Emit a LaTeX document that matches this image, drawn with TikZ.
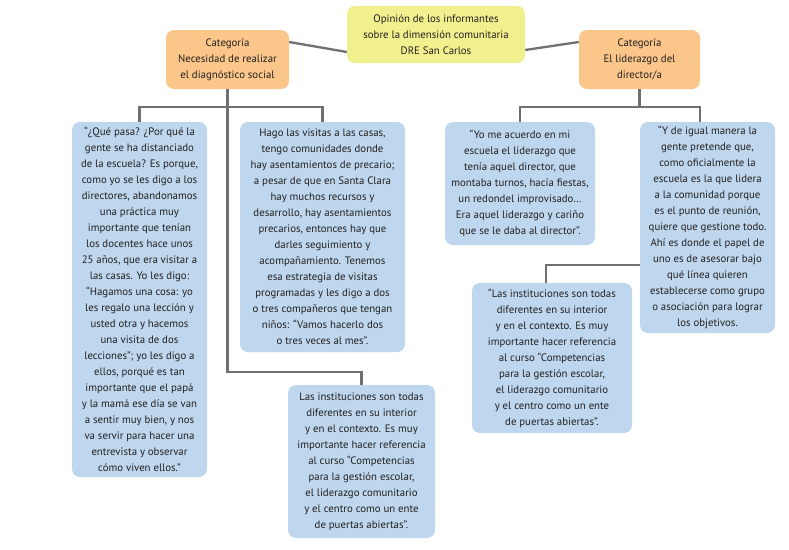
\documentclass[tikz,border=0pt]{standalone}
\usepackage{fontspec}
\setmainfont{PT Sans}
\usetikzlibrary{calc}

\definecolor{rootyellow}{RGB}{241,240,142}
\definecolor{catorange}{RGB}{251,198,138}
\definecolor{quoteblue}{RGB}{190,215,238}
\definecolor{linegray}{RGB}{112,112,116}
\definecolor{textdark}{RGB}{35,31,32}

\begin{document}
\begin{tikzpicture}[
        x=1pt, y=-1pt,
        box/.style={rectangle, rounded corners=8pt, inner sep=0pt, align=center, text=textdark,
            font=\fontsize{10.8}{16}\selectfont},
        root/.style={box, fill=rootyellow},
        category/.style={box, fill=catorange},
        quote/.style={box, fill=quoteblue},
        conn/.style={draw=linegray, line width=2.3pt}
    ]
    \useasboundingbox (0,0) rectangle (789,549);

    % Top level
    \node[root, minimum width=178pt, minimum height=57pt] (opinion) at (436,34.5) {
        Opinión de los informantes\\
        sobre la dimensión comunitaria\\
        DRE San Carlos};

    \node[category, minimum width=123pt, minimum height=59pt] (cat-diag) at (227.5,59.5) {
        Categoría\\
        Necesidad de realizar\\
        el diagnóstico social};

    \node[category, minimum width=121pt, minimum height=59pt] (cat-lider) at (639.5,59.5) {
        Categoría\\
        El liderazgo del\\
        director/a};

    % Quotes under the first category (LEFT)
    \node[quote, minimum width=135pt, minimum height=355pt] (quote-visitas) at (139.5,299.5) {
        “¿Qué pasa? ¿Por qué la\\
        gente se ha distanciado\\
        de la escuela? Es porque,\\
        como yo se les digo a los\\
        directores, abandonamos\\
        una práctica muy\\
        importante que tenían\\
        los docentes hace unos\\
        25 años, que era visitar a\\
        las casas. Yo les digo:\\
        “Hagamos una cosa: yo\\
        les regalo una lección y\\
        usted otra y hacemos\\
        una visita de dos\\
        lecciones”; yo les digo a\\
        ellos, porqué es tan\\
        importante que el papá\\
        y la mamá ese día se van\\
        a sentir muy bien, y nos\\
        va servir para hacer una\\
        entrevista y observar\\
        cómo viven ellos.”};

    \node[quote, minimum width=165pt, minimum height=230pt] (quote-casas) at (322.5,237) {
        Hago las visitas a las casas,\\
        tengo comunidades donde\\
        hay asentamientos de precario;\\
        a pesar de que en Santa Clara\\
        hay muchos recursos y\\
        desarrollo, hay asentamientos\\
        precarios, entonces hay que\\
        darles seguimiento y\\
        acompañamiento. Tenemos\\
        esa estrategia de visitas\\
        programadas y les digo a dos\\
        o tres compañeros que tengan\\
        niños: “Vamos hacerlo dos\\
        o tres veces al mes”.};

    \node[quote, minimum width=147pt, minimum height=153pt] (quote-inst-left) at (361.5,461.5) {
        Las instituciones son todas\\
        diferentes en su interior\\
        y en el contexto. Es muy\\
        importante hacer referencia\\
        al curso “Competencias\\
        para la gestión escolar,\\
        el liderazgo comunitario\\
        y el centro como un ente\\
        de puertas abiertas”.};

    % Quotes under the second category (RIGHT)
    \node[quote, minimum width=150pt, minimum height=123pt] (quote-director) at (520,183.5) {
        “Yo me acuerdo en mi\\
        escuela el liderazgo que\\
        tenía aquel director, que\\
        montaba turnos, hacía fiestas,\\
        un redondel improvisado…\\
        Era aquel liderazgo y cariño\\
        que se le daba al director”.};

    \node[quote, minimum width=135pt, minimum height=211pt] (quote-gente) at (707.5,227.5) {
        “Y de igual manera la\\
        gente pretende que,\\
        como oficialmente la\\
        escuela es la que lidera\\
        a la comunidad porque\\
        es el punto de reunión,\\
        quiere que gestione todo.\\
        Ahí es donde el papel de\\
        uno es de asesorar bajo\\
        qué línea quieren\\
        establecerse como grupo\\
        o asociación para lograr\\
        los objetivos.};

    \node[quote, minimum width=160pt, minimum height=150pt] (quote-inst-right) at (552,358) {
        “Las instituciones son todas\\
        diferentes en su interior\\
        y en el contexto. Es muy\\
        importante hacer referencia\\
        al curso “Competencias\\
        para la gestión escolar,\\
        el liderazgo comunitario\\
        y el centro como un ente\\
        de puertas abiertas”.};

    % Connectors
    \draw[conn] ([yshift=17.5pt]cat-diag.east) -- ([yshift=-17.5pt]opinion.west);
    \draw[conn] ([yshift=-15.5pt]opinion.east) -- ([yshift=17.5pt]cat-lider.west);

    \coordinate (split-left) at (cat-diag.south |- 0,107);
    \coordinate (split-right) at (cat-lider.south |- 0,107);

    \draw[conn] (quote-visitas.north) |- (quote-casas.north |- split-left) -- (quote-casas.north);
    \draw[conn] (cat-diag.south) |- (quote-inst-left.north |- 0,372) -- (quote-inst-left.north);

    \draw[conn] (cat-lider.south) -- (split-right);
    \draw[conn] (quote-director.north) |- ([xshift=-7.5pt]quote-gente.north |- split-right) -- ([xshift=-7.5pt]quote-gente.north);
    \draw[conn] (quote-gente.west |- 0,265) -| ([xshift=-6pt]quote-inst-right.north);

\end{tikzpicture}
\end{document}
